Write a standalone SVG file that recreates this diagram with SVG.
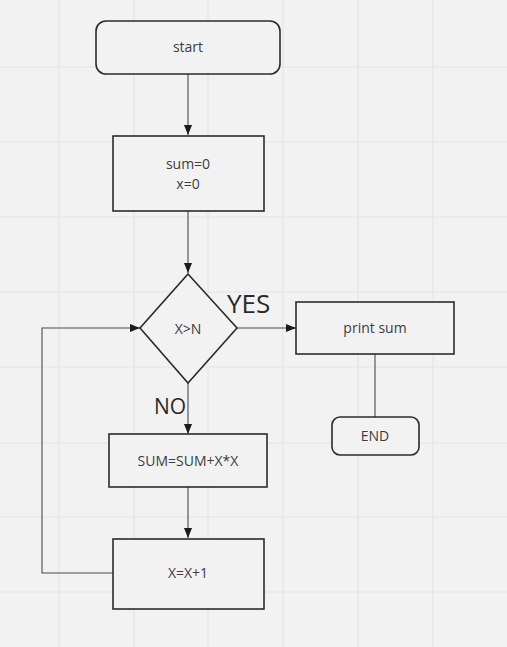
<svg xmlns="http://www.w3.org/2000/svg" width="507" height="647" viewBox="0 0 507 647">
<defs>
<marker id="arr" viewBox="0 0 10 8" refX="10" refY="4" markerWidth="10" markerHeight="8" markerUnits="userSpaceOnUse" orient="auto">
<path d="M0,0 L10,4 L0,8 Z" fill="#1a1a1a"/>
</marker>
</defs>
<style>
.bg{fill:#f2f2f2}
.grid line{stroke:#e4e4e4;stroke-width:1.2}
.shape{fill:#f2f2f2;stroke:#2b2b2b;stroke-width:1.6}
.t{font-family:"Open Sans","Liberation Sans",sans-serif;font-size:14px;fill:#3c3c3c;text-anchor:middle;dominant-baseline:central}
.lbl{font-family:"Open Sans","Liberation Sans",sans-serif;fill:#2a2a2a}
.conn{fill:none;stroke:#4a4a4a;stroke-width:1.1}
</style>
<rect class="bg" x="0" y="0" width="507" height="647"/>
<g class="grid">
<line x1="59" y1="0" x2="59" y2="647"/>
<line x1="134" y1="0" x2="134" y2="647"/>
<line x1="208" y1="0" x2="208" y2="647"/>
<line x1="283" y1="0" x2="283" y2="647"/>
<line x1="358" y1="0" x2="358" y2="647"/>
<line x1="433" y1="0" x2="433" y2="647"/>
<line x1="0" y1="67" x2="507" y2="67"/>
<line x1="0" y1="142" x2="507" y2="142"/>
<line x1="0" y1="217" x2="507" y2="217"/>
<line x1="0" y1="292" x2="507" y2="292"/>
<line x1="0" y1="367" x2="507" y2="367"/>
<line x1="0" y1="443" x2="507" y2="443"/>
<line x1="0" y1="517" x2="507" y2="517"/>
<line x1="0" y1="592" x2="507" y2="592"/>
</g>
<g id="connectors">
<line class="conn" x1="188" y1="74" x2="188" y2="135" marker-end="url(#arr)"/>
<line class="conn" x1="188" y1="211" x2="188" y2="273" marker-end="url(#arr)"/>
<line class="conn" x1="237" y1="328" x2="296" y2="328" marker-end="url(#arr)"/>
<line class="conn" x1="375" y1="354" x2="375" y2="417"/>
<line class="conn" x1="188" y1="383" x2="188" y2="434" marker-end="url(#arr)"/>
<line class="conn" x1="188" y1="487" x2="188" y2="538" marker-end="url(#arr)"/>
<polyline class="conn" points="113,573 42,573 42,328 140,328" marker-end="url(#arr)"/>
<text class="lbl" x="227" y="313" font-size="26">YES</text>
<text class="lbl" x="154" y="414" font-size="21">NO</text>
</g>
<g id="start">
<rect class="shape" x="96" y="21" width="184" height="53" rx="10"/>
<text class="t" x="188" y="46">start</text>
</g>
<g id="init">
<rect class="shape" x="113" y="136" width="151" height="75"/>
<text class="t" x="188" y="163">sum=0</text>
<text class="t" x="188" y="183">x=0</text>
</g>
<g id="cond">
<polygon class="shape" points="188,274 237,328 188,383 140,328"/>
<text class="t" x="188" y="328" font-size="13">X&gt;N</text>
</g>
<g id="print">
<rect class="shape" x="296" y="302" width="158" height="52"/>
<text class="t" x="375" y="327">print sum</text>
</g>
<g id="end">
<rect class="shape" x="332" y="417" width="87" height="38" rx="8"/>
<text class="t" x="375" y="435">END</text>
</g>
<g id="sum">
<rect class="shape" x="109" y="434" width="158" height="53"/>
<text class="t" x="188" y="460">SUM=SUM+X*X</text>
</g>
<g id="inc">
<rect class="shape" x="113" y="539" width="151" height="70"/>
<text class="t" x="188" y="572">X=X+1</text>
</g>
</svg>
